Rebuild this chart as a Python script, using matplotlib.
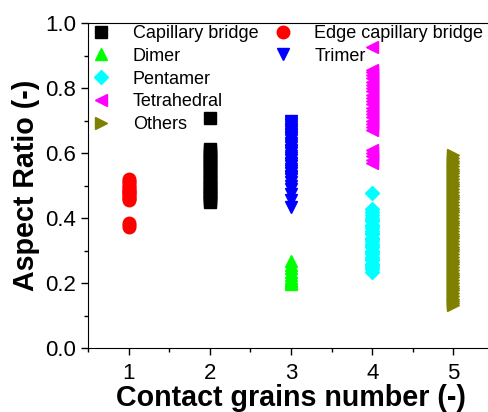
import numpy as np
import matplotlib
matplotlib.use('Agg')
import matplotlib.pyplot as plt
from matplotlib.lines import Line2D
from matplotlib.ticker import MultipleLocator

plt.rcParams['font.family'] = ['Liberation Sans', 'DejaVu Sans']

# aspect ratios, grouped by contact grains number
edge_bridge = [0.52, 0.515, 0.51, 0.505, 0.50, 0.495, 0.49, 0.487, 0.483, 0.48,
               0.477, 0.474, 0.47, 0.466, 0.462, 0.458, 0.455, 0.385, 0.378, 0.372]
cap_bridge = [0.708, 0.612, 0.605, 0.598, 0.59, 0.583, 0.575, 0.568, 0.56, 0.553,
              0.545, 0.538, 0.53, 0.523, 0.515, 0.508, 0.50, 0.494, 0.488, 0.481,
              0.475, 0.469, 0.462, 0.456, 0.449]
trimer = [0.70, 0.695, 0.69, 0.685, 0.68, 0.675, 0.67, 0.665, 0.66, 0.655, 0.65,
          0.645, 0.64, 0.63, 0.625, 0.62, 0.61, 0.605, 0.60, 0.59, 0.585, 0.58,
          0.57, 0.565, 0.56, 0.55, 0.545, 0.54, 0.53, 0.525, 0.52, 0.51, 0.50,
          0.49, 0.475, 0.455, 0.435]
dimer = [0.268, 0.255, 0.245, 0.235, 0.225, 0.215, 0.21, 0.205, 0.20, 0.197]
pentamer = [0.477, 0.428, 0.42, 0.41, 0.40, 0.395, 0.39, 0.38, 0.375, 0.37, 0.36,
            0.355, 0.35, 0.34, 0.335, 0.33, 0.32, 0.315, 0.31, 0.30, 0.295, 0.29,
            0.28, 0.275, 0.27, 0.26, 0.255, 0.25, 0.243, 0.234]
tetrahedral = [0.926, 0.855, 0.85, 0.84, 0.83, 0.82, 0.81, 0.80, 0.79, 0.78, 0.77,
               0.76, 0.75, 0.74, 0.73, 0.72, 0.71, 0.70, 0.69, 0.68, 0.67,
               0.61, 0.60, 0.59, 0.58, 0.57]
others = [0.594, 0.585, 0.575, 0.568, 0.56, 0.552, 0.545, 0.537, 0.53, 0.52, 0.512,
          0.505, 0.497, 0.49, 0.48, 0.472, 0.465, 0.457, 0.45, 0.44, 0.432, 0.425,
          0.417, 0.41, 0.40, 0.392, 0.385, 0.377, 0.37, 0.36, 0.352, 0.345, 0.337,
          0.33, 0.32, 0.312, 0.305, 0.297, 0.29, 0.28, 0.272, 0.265, 0.257, 0.25,
          0.24, 0.232, 0.225, 0.217, 0.21, 0.20, 0.192, 0.185, 0.177, 0.17, 0.16,
          0.152, 0.145, 0.138, 0.132]

series = [
    ('Capillary bridge', 2, cap_bridge, 's', 'black'),
    ('Dimer', 3, dimer, '^', '#00ff00'),
    ('Pentamer', 4, pentamer, 'D', 'cyan'),
    ('Tetrahedral', 4, tetrahedral, '<', 'magenta'),
    ('Others', 5, others, '>', '#808000'),
    ('Edge capillary bridge', 1, edge_bridge, 'o', 'red'),
    ('Trimer', 3, trimer, 'v', 'blue'),
]

fig = plt.figure(figsize=(4.89, 4.12), dpi=100)
ax = fig.add_axes([88/489, 64/412, 406/489, 325/412])

handles = []
for name, xpos, vals, mk, col in series:
    ms = 7 if mk == 'D' else 9
    h, = ax.plot([xpos]*len(vals), vals, ls='none', marker=mk, ms=ms,
                 color=col, mec=col, label=name)
    handles.append(h)

# blank entries so the legend columns split 5 / 2
blank = Line2D([], [], ls='none', marker='')
handles += [blank, blank, blank]
labels = [h.get_label() if h is not blank else '' for h in handles]
ax.legend(handles, labels, ncol=2, loc='upper left', frameon=False,
          fontsize=13, handlelength=1.2, handletextpad=1.15, columnspacing=0.75,
          labelspacing=0.32, borderaxespad=0.0, bbox_to_anchor=(-0.012, 1.016))

ax.set_xlim(0.5, 5.5)
ax.set_ylim(0.0, 1.0)
ax.xaxis.set_major_locator(MultipleLocator(1))
ax.xaxis.set_minor_locator(MultipleLocator(0.5))
ax.yaxis.set_major_locator(MultipleLocator(0.2))
ax.yaxis.set_minor_locator(MultipleLocator(0.1))
ax.set_yticks([0.0, 0.2, 0.4, 0.6, 0.8, 1.0])
ax.set_yticklabels(['0.0', '0.2', '0.4', '0.6', '0.8', '1.0'])
ax.tick_params(which='major', direction='out', length=5, width=1, labelsize=16)
ax.tick_params(axis='x', pad=6)
ax.tick_params(which='minor', direction='out', length=3, width=1)

ax.set_xlabel('Contact grains number (-)', fontsize=20.6, fontweight='bold', labelpad=0)
ax.set_ylabel('Aspect Ratio (-)', fontsize=20.6, fontweight='bold', labelpad=4)

fig.savefig('out.png', dpi=100)
